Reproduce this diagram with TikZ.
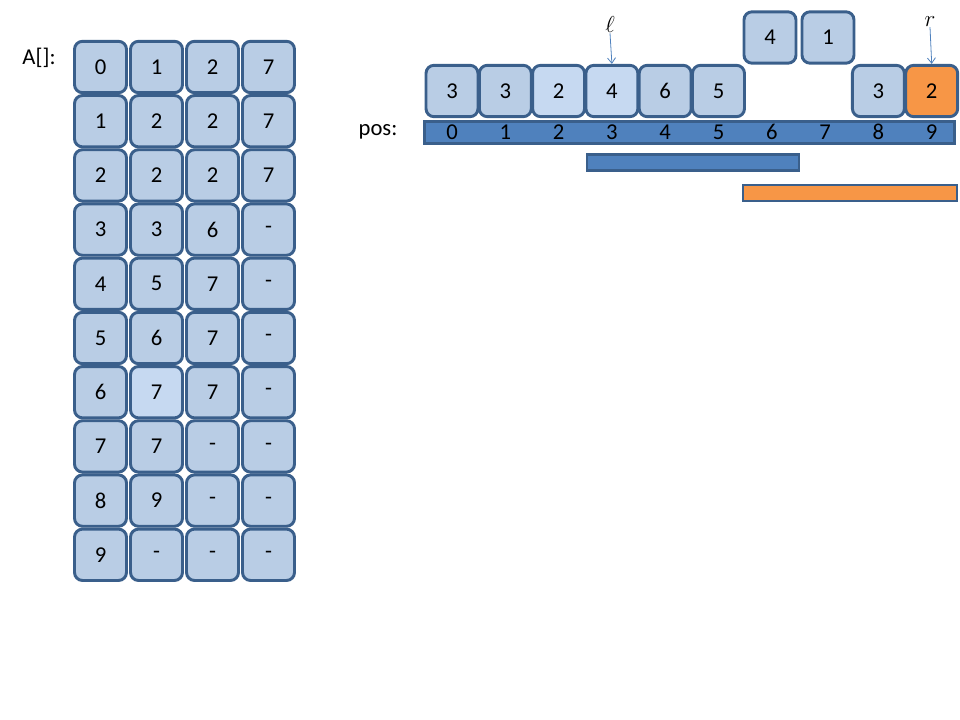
\documentclass[tikz,border=0pt]{standalone}
\usepackage{fontspec}
\setmainfont{Carlito}
\usetikzlibrary{arrows.meta}
\definecolor{cellfill}{HTML}{B9CDE5}
\definecolor{cellfillL}{HTML}{C6D9F1}
\definecolor{cellline}{HTML}{3A5F8B}
\definecolor{barfill}{HTML}{4F81BD}
\definecolor{orangefill}{HTML}{F79646}
\begin{document}
\begin{tikzpicture}[x=0.75pt,y=-0.75pt,
  cell/.style={draw=cellline,line width=2.2pt,fill=cellfill,rounded corners=6pt,
    minimum width=39pt,minimum height=38.5pt,inner sep=0pt,font=\fontsize{17}{20}\selectfont},
  lightcell/.style={cell,fill=cellfillL},
  orangecell/.style={cell,fill=orangefill},
  bar/.style={draw=cellline,line width=2.2pt,fill=barfill,inner sep=0pt},
  lbl/.style={font=\fontsize{17}{20}\selectfont,inner sep=0pt},
  ptr/.style={draw=barfill,line width=0.6pt,-{Straight Barb[length=4pt,width=6pt]}}]
\useasboundingbox (0,0) rectangle (960,720);
% label A[]
\node[lbl] (alab) at (39,58) {A[]:};
% grid
\foreach \row/\vals in {0/{0,1,2,7},1/{1,2,2,7},2/{2,2,2,7},3/{3,3,6,-},4/{4,5,7,-},
  5/{5,6,7,-},6/{6,7,7,-},7/{7,7,-,-},8/{8,9,-,-},9/{9,-,-,-}}{
  \foreach \v [count=\c from 0] in \vals {
    \ifnum\row=6 \ifnum\c=1
      \node[lightcell] (g-\row-\c) at ({100.5+56*\c},{67+54.2*\row}) {\v};
    \else
      \node[cell] (g-\row-\c) at ({100.5+56*\c},{67+54.2*\row}) {\v};
    \fi\else
      \node[cell] (g-\row-\c) at ({100.5+56*\c},{67+54.2*\row}) {\v};
    \fi
  }
}
% pos bar
\node[bar,minimum width=398pt,minimum height=17pt] (posbar) at (689.5,132.5) {};
\node[lbl] (poslab) at (378,132) {pos:};
\foreach \i in {0,...,9}{
  \node[lbl] (p-\i) at ({452+53.3*\i},132) {\i};
}
% top array
\node[cell] (t-0) at (452,91) {3};
\node[cell] (t-1) at (505.3,91) {3};
\node[lightcell] (t-2) at (558.6,91) {2};
\node[lightcell] (t-3) at (611.9,91) {4};
\node[cell] (t-4) at (665.2,91) {6};
\node[cell] (t-5) at (718.5,91) {5};
\node[cell] (t-8) at (878.4,91) {3};
\node[orangecell] (t-9) at (931.7,91) {2};
\node[cell] (u-6) at (770,37.5) {4};
\node[cell] (u-7) at (828,37.5) {1};
% pointers
\node[lbl,font=\fontsize{18}{20}\selectfont] (ell) at (610,25) {$\ell$};
\node[lbl,font=\fontsize{17}{20}\selectfont] (rr) at (930,22) {$r$};
\draw[ptr] (ell.south) -- (t-3.north);
\draw[ptr] (rr.south) -- (t-9.north);
% range bars
\node[bar,minimum width=159pt,minimum height=11.5pt] (bluebar) at (693,162.5) {};
\node[bar,fill=orangefill,minimum width=160.5pt,minimum height=12pt] (orangebar) at (850,193) {};
\end{tikzpicture}
\end{document}
